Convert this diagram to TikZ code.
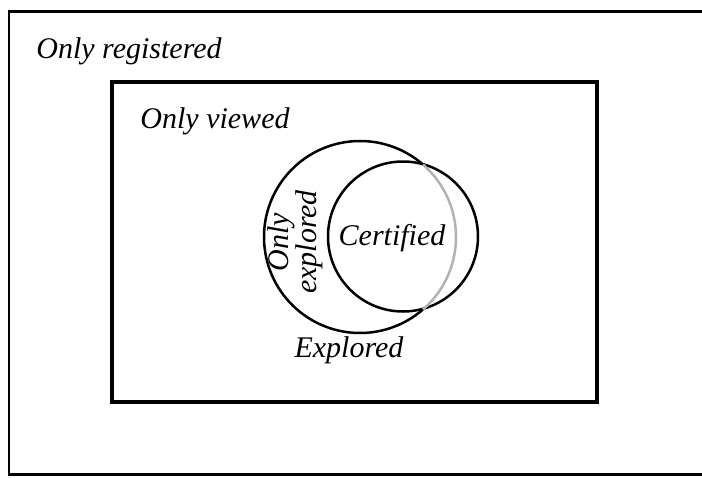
\documentclass[tikz,border=0pt]{standalone}
\usepackage{fontspec}
\setmainfont{Liberation Serif}
\tikzset{
    setlabel/.style={font=\fontsize{30}{24}\selectfont\itshape,inner sep=0pt},
    setline/.style={line width=2.5pt},
}
\begin{document}
\begin{tikzpicture}[x=1pt,y=1pt]
            \useasboundingbox (0,0) rectangle (702,-477);
            \begin{scope}[every node/.style={rectangle,draw,inner sep=0pt,outer sep=0pt}]
                \node[line width=2.5pt,minimum width=696pt,minimum height=463pt] (registered) at (357,-243) {};
                \node[line width=4pt,minimum width=485pt,minimum height=320pt] (viewed) at (354.5,-242) {};
            \end{scope}
            \begin{scope}[every node/.style={circle,inner sep=0pt,outer sep=0pt}]
                \node[minimum size=192pt] (explored) at (360,-237) {};
                \node[draw,setline,minimum size=150pt] (certified) at (403,-236.5) {};
            \end{scope}
            \draw[setline] (explored.49) arc[start angle=49,end angle=311,radius=96pt];
            \draw[setline,black!30] (explored.-49) arc[start angle=-49,end angle=49,radius=96pt];
            \begin{scope}[every node/.style={setlabel}]
                \node[anchor=base] (onlyreg) at (129,-58) {Only registered};
                \node[anchor=base] (onlyview) at (215,-128) {Only viewed};
                \node[anchor=base] (certlabel) at (392,-245) {Certified};
                \node[anchor=base] (explabel) at (349,-357) {Explored};
                \node[rotate=90,align=center] (onlyexpl) at (295,-242) {Only\\explored};
            \end{scope}
\end{tikzpicture}
\end{document}
